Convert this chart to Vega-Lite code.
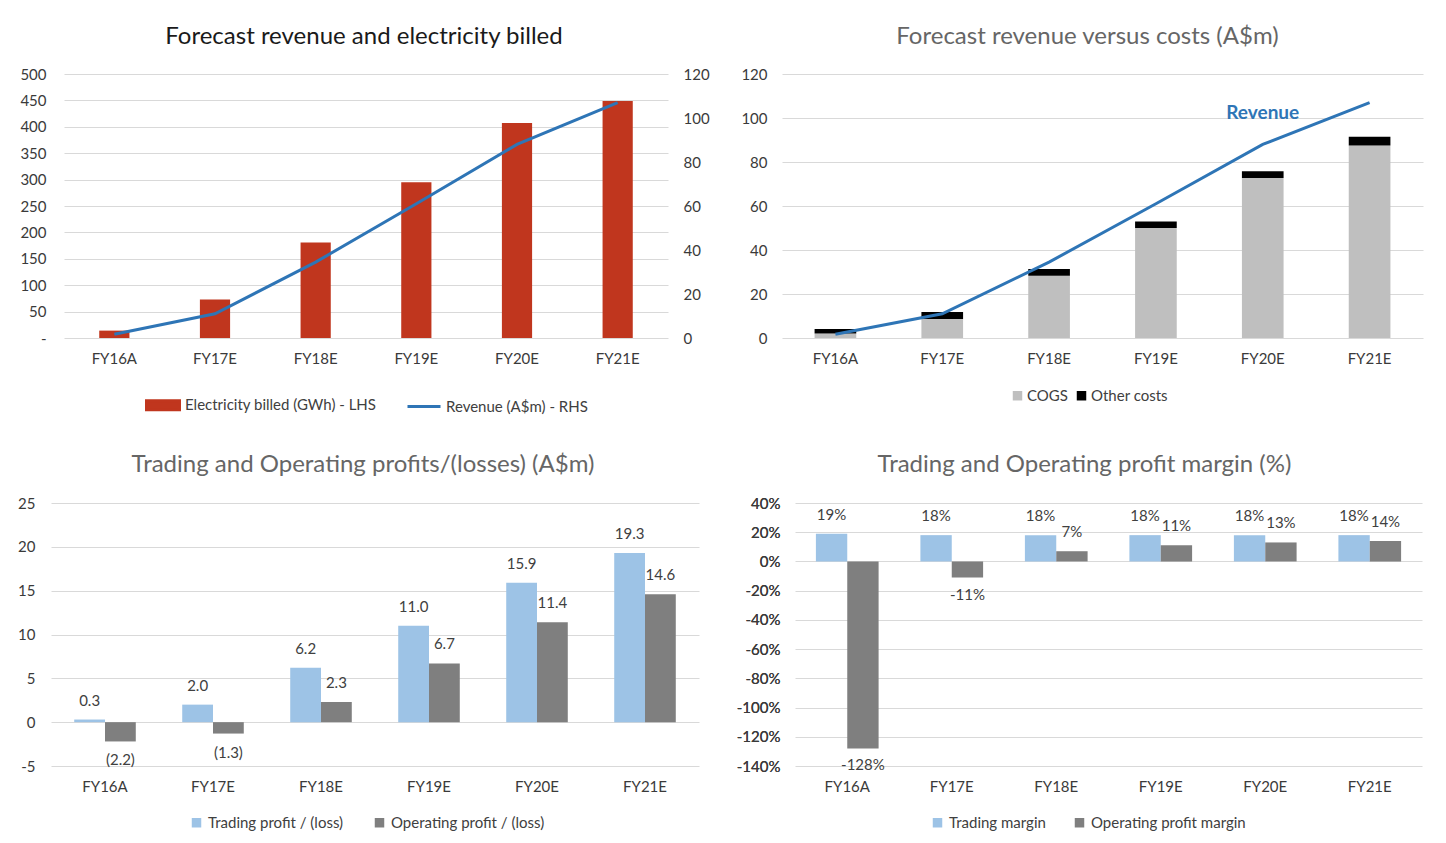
{
  "$schema": "https://vega.github.io/schema/vega-lite/v6.json",
  "background": "white",
  "padding": {"left": 10, "top": 25, "right": 0, "bottom": 0},
  "spacing": 37,
  "center": true,
  "config": {
    "view": {"stroke": null},
    "font": "Lato",
    "axis": {"labelFont": "Lato", "labelFontSize": 15, "labelColor": "#3A3A3A", "domain": false, "ticks": false, "grid": false, "title": null},
    "axisY": {"grid": true, "gridColor": "#D9D9D9", "gridWidth": 1, "labelPadding": 16},
    "axisX": {"labelPadding": 13, "labelAngle": 0},
    "legend": {"orient": "none", "direction": "horizontal", "title": null, "labelFont": "Lato", "labelFontSize": 15, "labelColor": "#404040", "labelLimit": 400, "symbolType": "square", "symbolSize": 90, "symbolStrokeWidth": 0, "symbolOpacity": 1, "columnPadding": 26, "labelOffset": 4},
    "title": {"font": "Lato", "fontSize": 24, "fontWeight": "normal", "color": "#666666", "anchor": "middle", "frame": "group", "offset": 19},
    "text": {"font": "Lato", "fontSize": 15, "fill": "#404040"}
  },
  "datasets": {
    "p1": [
      {"period": "FY16A", "series": "Electricity billed (GWh) - LHS", "value": 14},
      {"period": "FY17E", "series": "Electricity billed (GWh) - LHS", "value": 73},
      {"period": "FY18E", "series": "Electricity billed (GWh) - LHS", "value": 181},
      {"period": "FY19E", "series": "Electricity billed (GWh) - LHS", "value": 295},
      {"period": "FY20E", "series": "Electricity billed (GWh) - LHS", "value": 407},
      {"period": "FY21E", "series": "Electricity billed (GWh) - LHS", "value": 449},
      {"period": "FY16A", "series": "Revenue (A$m) - RHS", "value": 1.7},
      {"period": "FY17E", "series": "Revenue (A$m) - RHS", "value": 11},
      {"period": "FY18E", "series": "Revenue (A$m) - RHS", "value": 34.5},
      {"period": "FY19E", "series": "Revenue (A$m) - RHS", "value": 61},
      {"period": "FY20E", "series": "Revenue (A$m) - RHS", "value": 88},
      {"period": "FY21E", "series": "Revenue (A$m) - RHS", "value": 107}
    ],
    "costs": [
      {"period": "FY16A", "series": "COGS", "value": 2.0},
      {"period": "FY17E", "series": "COGS", "value": 8.6},
      {"period": "FY18E", "series": "COGS", "value": 28.3},
      {"period": "FY19E", "series": "COGS", "value": 50.0},
      {"period": "FY20E", "series": "COGS", "value": 72.7},
      {"period": "FY21E", "series": "COGS", "value": 87.5},
      {"period": "FY16A", "series": "Other costs", "value": 2.1},
      {"period": "FY17E", "series": "Other costs", "value": 3.2},
      {"period": "FY18E", "series": "Other costs", "value": 3.1},
      {"period": "FY19E", "series": "Other costs", "value": 3.0},
      {"period": "FY20E", "series": "Other costs", "value": 3.1},
      {"period": "FY21E", "series": "Other costs", "value": 4.0}
    ],
    "revenue": [
      {"period": "FY16A", "value": 1.7},
      {"period": "FY17E", "value": 11},
      {"period": "FY18E", "value": 34.5},
      {"period": "FY19E", "value": 61},
      {"period": "FY20E", "value": 88},
      {"period": "FY21E", "value": 107}
    ],
    "revlabel": [{"period": "FY20E", "value": 102.5, "label": "Revenue"}],
    "profit": [
      {"period": "FY16A", "series": "Trading profit / (loss)", "value": 0.3, "label": "0.3"},
      {"period": "FY17E", "series": "Trading profit / (loss)", "value": 2.0, "label": "2.0"},
      {"period": "FY18E", "series": "Trading profit / (loss)", "value": 6.2, "label": "6.2"},
      {"period": "FY19E", "series": "Trading profit / (loss)", "value": 11.0, "label": "11.0"},
      {"period": "FY20E", "series": "Trading profit / (loss)", "value": 15.9, "label": "15.9"},
      {"period": "FY21E", "series": "Trading profit / (loss)", "value": 19.3, "label": "19.3"},
      {"period": "FY16A", "series": "Operating profit / (loss)", "value": -2.2, "label": "(2.2)"},
      {"period": "FY17E", "series": "Operating profit / (loss)", "value": -1.3, "label": "(1.3)"},
      {"period": "FY18E", "series": "Operating profit / (loss)", "value": 2.3, "label": "2.3"},
      {"period": "FY19E", "series": "Operating profit / (loss)", "value": 6.7, "label": "6.7"},
      {"period": "FY20E", "series": "Operating profit / (loss)", "value": 11.4, "label": "11.4"},
      {"period": "FY21E", "series": "Operating profit / (loss)", "value": 14.6, "label": "14.6"}
    ],
    "margin": [
      {"period": "FY16A", "series": "Trading margin", "value": 0.19, "label": "19%"},
      {"period": "FY17E", "series": "Trading margin", "value": 0.18, "label": "18%"},
      {"period": "FY18E", "series": "Trading margin", "value": 0.18, "label": "18%"},
      {"period": "FY19E", "series": "Trading margin", "value": 0.18, "label": "18%"},
      {"period": "FY20E", "series": "Trading margin", "value": 0.18, "label": "18%"},
      {"period": "FY21E", "series": "Trading margin", "value": 0.18, "label": "18%"},
      {"period": "FY16A", "series": "Operating profit margin", "value": -1.28, "label": "-128%"},
      {"period": "FY17E", "series": "Operating profit margin", "value": -0.11, "label": "-11%"},
      {"period": "FY18E", "series": "Operating profit margin", "value": 0.07, "label": "7%"},
      {"period": "FY19E", "series": "Operating profit margin", "value": 0.11, "label": "11%"},
      {"period": "FY20E", "series": "Operating profit margin", "value": 0.13, "label": "13%"},
      {"period": "FY21E", "series": "Operating profit margin", "value": 0.14, "label": "14%"}
    ]
  },
  "resolve": {"scale": {"x": "independent", "y": "independent", "color": "independent", "xOffset": "independent"}, "legend": {"color": "independent"}},
  "vconcat": [
    {
      "spacing": 0,
      "resolve": {"scale": {"x": "independent", "y": "independent", "color": "independent"}, "legend": {"color": "independent"}},
      "hconcat": [
        {
          "width": 604, "height": 264,
          "title": {"text": "Forecast revenue and electricity billed", "color": "#1A1A1A", "dx": -2, "offset": 18},
          "data": {"name": "p1"},
          "encoding": {
            "x": {"field": "period", "type": "nominal", "sort": null, "scale": {"paddingInner": 0.7, "paddingOuter": 0.35}}
          },
          "layer": [
            {
              "transform": [{"filter": "datum.series === 'Electricity billed (GWh) - LHS'"}],
              "mark": {"type": "bar"},
              "encoding": {
                "y": {"field": "value", "type": "quantitative", "scale": {"domain": [0, 500]}, "axis": {"values": [0, 50, 100, 150, 200, 250, 300, 350, 400, 450, 500], "labelExpr": "datum.value === 0 ? '-' : datum.label", "minExtent": 54, "labelPadding": 18}},
                "color": {"field": "series", "type": "nominal", "scale": {"domain": ["Electricity billed (GWh) - LHS", "Revenue (A$m) - RHS"], "range": ["#C0361E", "#2E75B6"]},
                  "legend": {"legendX": 81, "legendY": 313, "symbolSize": 1089, "columnPadding": 24, "labelOffset": 4,
                    "encode": {"symbols": {"update": {
                      "shape": {"signal": "datum.value === 'Revenue (A$m) - RHS' ? 'stroke' : 'M-1,-0.27H1V0.27H-1Z'"},
                      "fill": {"signal": "datum.value === 'Revenue (A$m) - RHS' ? 'transparent' : '#C0361E'"},
                      "stroke": {"signal": "datum.value === 'Revenue (A$m) - RHS' ? '#2E75B6' : 'transparent'"},
                      "strokeWidth": {"value": 3},
                      "opacity": {"value": 1}
                    }}}}}
              }
            },
            {
              "transform": [{"filter": "datum.series === 'Revenue (A$m) - RHS'"}],
              "mark": {"type": "line", "strokeWidth": 3},
              "encoding": {
                "y": {"field": "value", "type": "quantitative", "scale": {"domain": [0, 120]}, "axis": {"orient": "right", "values": [0, 20, 40, 60, 80, 100, 120], "grid": false, "minExtent": 57, "labelPadding": 15}},
                "color": {"field": "series", "type": "nominal"}
              }
            }
          ],
          "resolve": {"scale": {"y": "independent"}}
        },
        {
          "width": 641, "height": 264,
          "title": {"text": "Forecast revenue versus costs (A$m)", "dx": -15, "offset": 18},
          "encoding": {
            "x": {"field": "period", "type": "nominal", "sort": null, "scale": {"paddingInner": 0.61, "paddingOuter": 0.305}}
          },
          "layer": [
            {
              "data": {"name": "costs"},
              "mark": {"type": "bar"},
              "encoding": {
                "y": {"field": "value", "type": "quantitative", "stack": "zero", "scale": {"domain": [0, 120]}, "axis": {"values": [0, 20, 40, 60, 80, 100, 120], "minExtent": 57, "labelPadding": 15}},
                "color": {"field": "series", "type": "nominal", "scale": {"domain": ["COGS", "Other costs"], "range": ["#BFBFBF", "#000000"]},
                  "legend": {"legendX": 228, "legendY": 314, "columnPadding": 6, "labelOffset": 2}},
                "order": {"field": "series", "sort": "ascending"}
              }
            },
            {
              "data": {"name": "revenue"},
              "mark": {"type": "line", "strokeWidth": 3, "color": "#2E75B6"},
              "encoding": {"y": {"field": "value", "type": "quantitative"}}
            },
            {
              "data": {"name": "revlabel"},
              "mark": {"type": "text", "fontSize": 19, "fontWeight": "bold", "fill": "#2E75B6"},
              "encoding": {"y": {"field": "value", "type": "quantitative"}, "text": {"field": "label"}}
            }
          ]
        }
      ]
    },
    {
      "spacing": 0,
      "resolve": {"scale": {"x": "independent", "y": "independent", "color": "independent", "xOffset": "independent"}, "legend": {"color": "independent"}},
      "hconcat": [
        {
          "width": 648, "height": 263,
          "title": {"text": "Trading and Operating profits/(losses) (A$m)", "dx": -12},
          "data": {"name": "profit"},
          "encoding": {
            "x": {"field": "period", "type": "nominal", "sort": null, "scale": {"paddingInner": 0.43, "paddingOuter": 0.215}},
            "xOffset": {"field": "series", "type": "nominal", "scale": {"domain": ["Trading profit / (loss)", "Operating profit / (loss)"], "paddingInner": 0, "paddingOuter": 0}},
            "y": {"field": "value", "type": "quantitative", "scale": {"domain": [-5, 25]}, "axis": {"values": [-5, 0, 5, 10, 15, 20, 25], "labelExpr": "replace(datum.label, '\u2212', '-')", "minExtent": 41, "labelPadding": 16}}
          },
          "layer": [
            {
              "mark": {"type": "bar"},
              "encoding": {
                "color": {"field": "series", "type": "nominal", "scale": {"domain": ["Trading profit / (loss)", "Operating profit / (loss)"], "range": ["#9DC3E6", "#7F7F7F"]},
                  "legend": {"legendX": 138, "legendY": 312, "columnPadding": 28, "labelOffset": 4}}
              }
            },
            {
              "transform": [{"filter": "datum.value >= 0"}],
              "mark": {"type": "text", "baseline": "bottom", "dy": -11},
              "encoding": {"text": {"field": "label"}}
            },
            {
              "transform": [{"filter": "datum.value < 0"}],
              "mark": {"type": "text", "baseline": "top", "dy": 12},
              "encoding": {"text": {"field": "label"}}
            }
          ]
        },
        {
          "width": 627, "height": 263,
          "title": {"text": "Trading and Operating profit margin (%)", "dx": -24},
          "data": {"name": "margin"},
          "encoding": {
            "x": {"field": "period", "type": "nominal", "sort": null, "scale": {"paddingInner": 0.4, "paddingOuter": 0.2}},
            "xOffset": {"field": "series", "type": "nominal", "scale": {"domain": ["Trading margin", "Operating profit margin"], "paddingInner": 0, "paddingOuter": 0}},
            "y": {"field": "value", "type": "quantitative", "scale": {"domain": [-1.4, 0.4]}, "axis": {"values": [-1.4, -1.2, -1.0, -0.8, -0.6, -0.4, -0.2, 0, 0.2, 0.4], "format": ".0%", "labelExpr": "replace(datum.label, '\u2212', '-')", "minExtent": 96, "labelPadding": 15}}
          },
          "layer": [
            {
              "mark": {"type": "bar"},
              "encoding": {
                "color": {"field": "series", "type": "nominal", "scale": {"domain": ["Trading margin", "Operating profit margin"], "range": ["#9DC3E6", "#7F7F7F"]},
                  "legend": {"legendX": 135, "legendY": 312, "columnPadding": 26, "labelOffset": 4}}
              }
            },
            {
              "transform": [{"filter": "datum.value >= 0"}],
              "mark": {"type": "text", "baseline": "bottom", "dy": -11},
              "encoding": {
                "text": {"field": "label"},
                "y": {"field": "value", "type": "quantitative", "axis": {"orient": "right", "labels": false, "grid": false, "minExtent": 14, "maxExtent": 14, "values": [0]}}
              }
            },
            {
              "transform": [{"filter": "datum.value < 0"}],
              "mark": {"type": "text", "baseline": "top", "dy": 10},
              "encoding": {"text": {"field": "label"}}
            }
          ],
          "resolve": {"axis": {"y": "independent"}}
        }
      ]
    }
  ]
}
